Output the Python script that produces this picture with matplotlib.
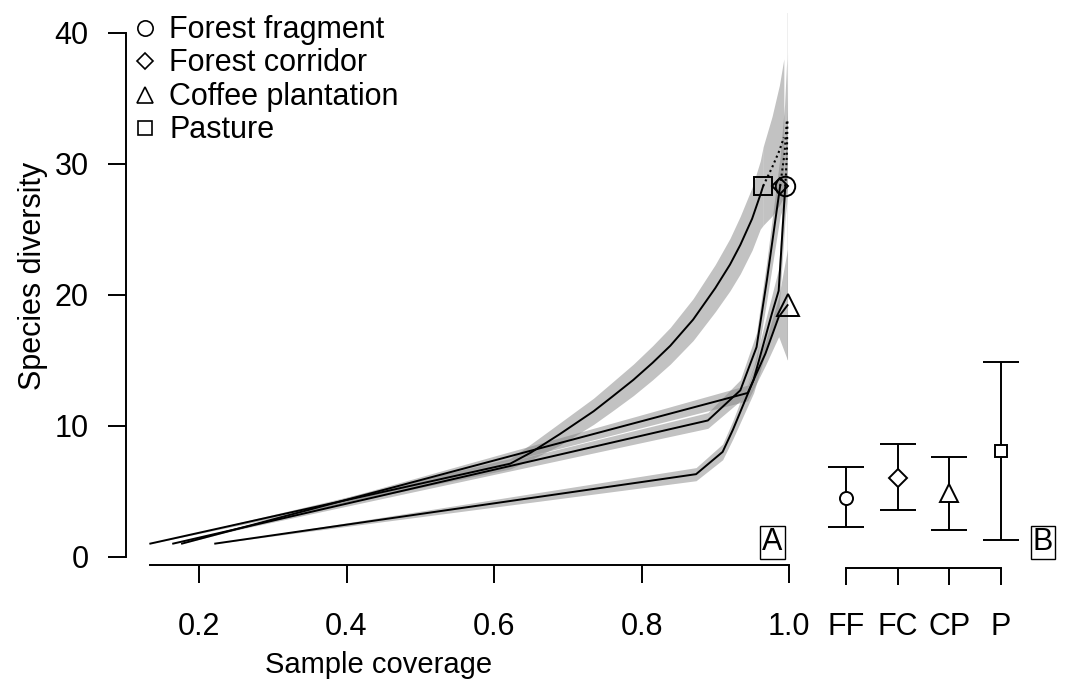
import numpy as np
import matplotlib.pyplot as plt

plt.rcParams['font.family'] = ['Liberation Sans', 'DejaVu Sans']

W, H = 1073, 687

# ---- panel A: diversity vs sample coverage (solid = interpolated) ----
ff_cov = [0.222, 0.874, 0.910, 0.924, 0.952, 0.977, 0.986, 0.995]
ff_div = [1.0, 6.3, 8.0, 9.7, 13.5, 18.6, 20.3, 28.3]
ff_lo = [1.0, 5.8, 7.4, 9.0, 12.5, 17.2, 18.6, 26.0]
ff_hi = [1.0, 6.8, 8.6, 10.4, 14.5, 20.0, 22.0, 30.6]

fc_cov = [0.165, 0.890, 0.934, 0.956, 0.970, 0.988]
fc_div = [1.0, 10.4, 12.7, 16.0, 21.1, 28.3]
fc_lo = [1.0, 9.8, 11.9, 14.9, 19.6, 26.0]
fc_hi = [1.0, 11.0, 13.5, 17.1, 22.6, 30.6]

cp_cov = [0.177, 0.944, 0.968, 0.986, 0.998]
cp_div = [1.0, 12.5, 15.5, 18.3, 19.2]
cp_lo = [1.0, 11.9, 14.6, 16.8, 15.0]
cp_hi = [1.0, 13.1, 16.4, 19.8, 23.5]

p_cov = [0.134, 0.622, 0.650, 0.689, 0.735, 0.760, 0.789, 0.815, 0.839, 0.870,
         0.900, 0.920, 0.934, 0.950, 0.961, 0.965]
p_div = [1.0, 7.1, 7.95, 9.35, 11.1, 12.2, 13.5, 14.8, 16.1, 18.1,
         20.5, 22.3, 23.8, 25.8, 27.6, 28.3]
p_lo = [1.0, 6.7, 7.4, 8.5, 10.1, 11.1, 12.3, 13.5, 14.7, 16.5,
        18.7, 20.3, 21.6, 23.4, 25.0, 25.3]
p_hi = [1.0, 7.5, 8.6, 10.2, 12.1, 13.3, 14.7, 16.1, 17.5, 19.7,
        22.3, 24.3, 26.0, 28.2, 30.2, 31.3]

# extrapolated parts (dotted)
ff_ext_cov = [0.995, 0.997, 0.998]
ff_ext_div = [28.3, 30.5, 33.4]
ff_ext_lo = [26.0, 27.0, 28.0]
ff_ext_hi = [30.6, 34.0, 38.5]

fc_ext_cov = [0.988, 0.994, 0.997]
fc_ext_div = [28.3, 30.8, 33.2]
fc_ext_lo = [26.0, 27.0, 28.0]
fc_ext_hi = [30.6, 34.5, 38.0]

p_ext_cov = [0.965, 0.977, 0.987, 0.993]
p_ext_div = [28.3, 29.7, 31.0, 32.0]
p_ext_lo = [25.3, 26.0, 26.8, 27.5]
p_ext_hi = [31.3, 33.6, 36.0, 38.0]

cp_ext_cov = [0.9978, 0.9990]
cp_ext_lo = [15.0, 15.0]
cp_ext_hi = [41.5, 41.5]

# ---- panel B: estimates with CIs ----
sites = ['FF', 'FC', 'CP', 'P']
est = [4.5, 6.04, 4.9, 8.08]
ci_lo = [2.23, 3.53, 2.06, 1.27]
ci_hi = [6.86, 8.6, 7.6, 14.83]

labels = ['Forest fragment', 'Forest corridor', 'Coffee plantation', 'Pasture']
markers = ['o', 'D', '^', 's']

FS = 22


def px(x, y):
    return x / W, 1 - y / H


fig = plt.figure(figsize=(W / 100, H / 100), dpi=100)

# axis A: 0.2 -> px 199, 1.0 -> px 789 ; 0 -> px 556.7, 10 units = 131 px
xpu = 737.5
x0 = 51.5
ypu = 13.1
y0 = 556.7
a_l, a_r, a_b, a_t = 126, 800, 565, 10
axA = fig.add_axes([a_l / W, 1 - a_b / H, (a_r - a_l) / W, (a_b - a_t) / H])
axA.set_xlim((a_l - x0) / xpu, (a_r - x0) / xpu)
axA.set_ylim(-(a_b - y0) / ypu, (y0 - a_t) / ypu)

band = dict(color='#808080', alpha=0.48, linewidth=0)
for c, lo, hi in [(p_cov, p_lo, p_hi), (fc_cov, fc_lo, fc_hi),
                  (cp_cov, cp_lo, cp_hi), (ff_cov, ff_lo, ff_hi),
                  (p_ext_cov, p_ext_lo, p_ext_hi), (fc_ext_cov, fc_ext_lo, fc_ext_hi),
                  (ff_ext_cov, ff_ext_lo, ff_ext_hi)]:
    axA.fill_between(c, lo, hi, **band)
axA.fill_between(cp_ext_cov, cp_ext_lo, cp_ext_hi, color='#808080', alpha=0.12, linewidth=0)

for c, d in [(ff_cov, ff_div), (fc_cov, fc_div), (cp_cov, cp_div), (p_cov, p_div)]:
    axA.plot(c, d, color='black', lw=1.4)
for c, d in [(ff_ext_cov, ff_ext_div), (fc_ext_cov, fc_ext_div), (p_ext_cov, p_ext_div)]:
    axA.plot(c, d, color='black', lw=1.5, linestyle=(0, (1, 1.5)))

obs = [(ff_cov[-1], ff_div[-1], 'o', 14), (fc_cov[-1], fc_div[-1], 'D', 8.5),
       (cp_cov[-1], cp_div[-1], '^', 16), (p_cov[-1], p_div[-1], 's', 13)]
for cx, cy, m, s in obs:
    axA.plot(cx, cy, marker=m, markersize=s, markerfacecolor='none',
             markeredgecolor='black', markeredgewidth=1.4, clip_on=False)

for side in ['top', 'right']:
    axA.spines[side].set_visible(False)
axA.spines['left'].set_bounds(0, 40)
axA.spines['bottom'].set_bounds(p_cov[0], 1.0)
for side in ['left', 'bottom']:
    axA.spines[side].set_linewidth(1.4)
axA.set_xticks([0.2, 0.4, 0.6, 0.8, 1.0])
axA.set_xticklabels(['0.2', '0.4', '0.6', '0.8', '1.0'])
axA.set_yticks([0, 10, 20, 30, 40])
axA.tick_params(axis='x', length=13, width=1.4, labelsize=FS, pad=21)
axA.tick_params(axis='y', length=13, width=1.4, labelsize=FS, pad=14)

# axis B
b_l, b_r, b_b = 820, 1065, 568
bpu = 51.7
bx0 = 846 - bpu
axB = fig.add_axes([b_l / W, 1 - b_b / H, (b_r - b_l) / W, (b_b - a_t) / H])
axB.set_xlim((b_l - bx0) / bpu, (b_r - bx0) / bpu)
axB.set_ylim(-(b_b - y0) / ypu, (y0 - a_t) / ypu)
xs = np.arange(1, len(sites) + 1)
bsize = [9.4, 9.2, 13, 8]
for i in range(len(sites)):
    axB.errorbar(xs[i], est[i], yerr=[[est[i] - ci_lo[i]], [ci_hi[i] - est[i]]],
                 fmt='none', ecolor='black', elinewidth=1.4, capsize=13, capthick=1.4)
    axB.plot(xs[i], est[i], marker=markers[i], markersize=bsize[i],
             markerfacecolor='white', markeredgecolor='black', markeredgewidth=1.4)
for side in ['top', 'right', 'left']:
    axB.spines[side].set_visible(False)
axB.spines['bottom'].set_bounds(1, len(sites))
axB.spines['bottom'].set_linewidth(1.4)
axB.set_yticks([])
axB.set_xticks(xs)
axB.set_xticklabels(sites)
axB.tick_params(axis='x', length=12.5, width=1.4, labelsize=FS, pad=19)

# panel tags
fig.text(*px(772.5, 542.5), 'A', fontsize=FS, ha='center', va='center',
         bbox=dict(boxstyle='square,pad=0.06', facecolor='white', edgecolor='black', lw=1.0))
fig.text(*px(1043, 542.5), 'B', fontsize=FS, ha='center', va='center',
         bbox=dict(boxstyle='square,pad=0.06', facecolor='white', edgecolor='black', lw=1.0))

# legend
leg_y = [28, 61, 95, 128]
leg_size = [11, 7.8, 11.5, 10.5]
for lab, m, yy, s in zip(labels, markers, leg_y, leg_size):
    fx, fy = px(145, yy)
    fig.lines.append(plt.Line2D([fx], [fy], marker=m, markersize=s, markerfacecolor='none',
                                markeredgecolor='black', markeredgewidth=1.2,
                                transform=fig.transFigure))
    fig.text(*px(169, yy + 10), lab, fontsize=FS, ha='left', va='baseline')

fig.text(*px(33, 276), 'Species diversity', fontsize=FS, rotation=90, ha='center', va='center')
fig.text(*px(379, 665), 'Sample coverage', fontsize=21, ha='center', va='center')

fig.savefig('out.png', dpi=100)
